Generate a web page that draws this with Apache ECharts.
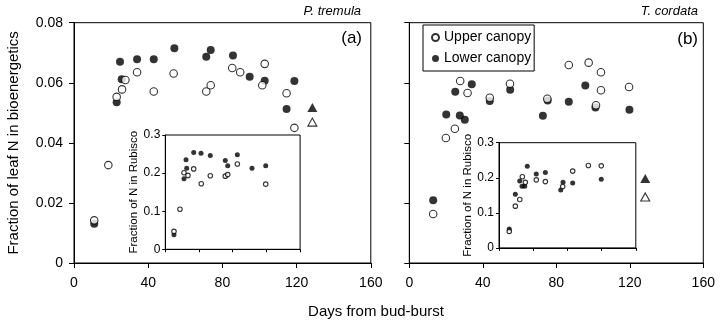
<!DOCTYPE html>
<html><head><meta charset="utf-8">
<script src="https://cdn.jsdelivr.net/npm/echarts@6/dist/echarts.min.js"></script>
<style>html,body{margin:0;padding:0;background:#fff}#c{width:720px;height:329px}</style>
</head><body><div id="c"></div>
<script>
// Panel (a) P. tremula, main: fraction of leaf N in bioenergetics
const daysAUpper = [10.9, 18.5, 23.0, 25.9, 27.7, 34.0, 43.0, 53.7, 71.3, 73.7, 85.3, 89.6, 101.5, 102.8, 114.6, 118.8];
const fracAUpper = [0.0142, 0.0326, 0.0553, 0.0578, 0.0609, 0.0635, 0.0571, 0.0631, 0.0571, 0.0592, 0.0649, 0.0635, 0.0592, 0.0663, 0.0565, 0.0450];
const daysALower = [10.9, 23.0, 24.8, 25.7, 34.0, 43.0, 54.1, 71.3, 73.7, 85.7, 94.7, 102.8, 114.6, 118.8];
const fracALower = [0.0131, 0.0535, 0.0670, 0.0612, 0.0678, 0.0678, 0.0715, 0.0687, 0.0709, 0.0691, 0.0620, 0.0607, 0.0513, 0.0606];
const triADays = [128.5];
const triALowerVal = [0.0518];
const triAUpperVal = [0.0469];
// Panel (a) inset: fraction of N in Rubisco
const daysAInUpper = [10.3, 17.4, 22.2, 26.9, 33.7, 42.7, 53.4, 71.2, 74.1, 85.5, 119.2];
const rubAInUpper = [0.047, 0.105, 0.201, 0.194, 0.211, 0.172, 0.193, 0.192, 0.196, 0.224, 0.171];
const daysAInLower = [10.3, 22.2, 24.6, 25.4, 33.7, 42.4, 53.4, 71.2, 74.1, 85.5, 102.9, 119.2];
const rubAInLower = [0.038, 0.185, 0.235, 0.213, 0.254, 0.252, 0.246, 0.233, 0.219, 0.248, 0.213, 0.219];
// Panel (b) T. cordata, main
const daysBUpper = [13.0, 19.9, 24.8, 27.7, 31.7, 43.8, 54.8, 75.1, 86.8, 97.6, 101.6, 104.3, 104.3, 119.6];
const fracBUpper = [0.0163, 0.0416, 0.0447, 0.0606, 0.0566, 0.0550, 0.0597, 0.0547, 0.0659, 0.0667, 0.0525, 0.0635, 0.0575, 0.0586];
const daysBLower = [13.0, 20.1, 25.0, 27.5, 30.2, 34.0, 43.8, 54.9, 72.7, 75.3, 86.8, 95.8, 101.3, 119.8];
const fracBLower = [0.0209, 0.0494, 0.0570, 0.0491, 0.0477, 0.0595, 0.0539, 0.0577, 0.0490, 0.0541, 0.0537, 0.0591, 0.0518, 0.0510];
const triBDays = [128.4];
const triBLowerVal = [0.0281];
const triBUpperVal = [0.0220];
// Panel (b) inset
const daysBInUpper = [12.0, 19.1, 24.3, 27.3, 30.8, 43.6, 54.2, 74.5, 86.2, 104.5, 119.6];
const rubBInUpper = [0.047, 0.119, 0.138, 0.203, 0.187, 0.194, 0.189, 0.175, 0.219, 0.235, 0.234];
const daysBInLower = [12.0, 19.1, 24.2, 26.9, 30.1, 33.1, 43.6, 54.2, 72.2, 74.9, 86.2, 119.6];
const rubBInLower = [0.054, 0.153, 0.191, 0.176, 0.176, 0.233, 0.211, 0.215, 0.165, 0.187, 0.185, 0.196];

const xTicks = [0, 40, 80, 120, 160];
const mainYTicks = [0, 0.02, 0.04, 0.06, 0.08];
const insetYTicks = [0, 0.1, 0.2, 0.3];

const FONT = 'Liberation Sans';
const zip = (a, b) => a.map((v, i) => [v, b[i]]);

function xAx(gi, showLabel, tickLen) {
  return {
    type: 'value', gridIndex: gi, min: xTicks[0], max: xTicks[xTicks.length - 1], interval: 40,
    axisLine: { show: true, lineStyle: { color: '#000', width: 1 } },
    axisTick: { show: true, inside: false, length: tickLen, lineStyle: { color: '#000' } },
    axisLabel: { show: showLabel, color: '#000', fontSize: 14, fontFamily: FONT, margin: 13 },
    splitLine: { show: false }
  };
}
function yAx(gi, ticks, showLabel, tickLen, fs, margin, name, nameGap, nameSize) {
  return {
    type: 'value', gridIndex: gi, min: ticks[0], max: ticks[ticks.length - 1], interval: ticks[1] - ticks[0],
    axisLine: { show: true, lineStyle: { color: '#000', width: 1 } },
    axisTick: { show: true, inside: false, length: tickLen, lineStyle: { color: '#000' } },
    axisLabel: { show: showLabel, color: '#000', fontSize: fs, fontFamily: FONT, margin: margin },
    splitLine: { show: false },
    name: name, nameLocation: 'middle', nameGap: nameGap, nameRotate: 90,
    nameTextStyle: { color: '#000', fontSize: nameSize, fontFamily: FONT }
  };
}
function sc(name, xi, data, filled, size, symbol) {
  return {
    type: 'scatter', name: name, xAxisIndex: xi, yAxisIndex: xi, data: data,
    symbol: symbol || 'circle', symbolSize: size,
    itemStyle: filled ? { color: '#000', borderColor: '#000', borderWidth: 0 }
                      : { color: '#fff', borderColor: '#000', borderWidth: 1.1 },
    emphasis: { disabled: true }, silent: true, z: filled ? 2 : 3
  };
}

const chart = echarts.init(document.getElementById('c'), null, { renderer: 'canvas' });
const gridBase = { show: true, borderColor: '#000', borderWidth: 1, backgroundColor: '#fff', outerBoundsMode: 'none', containLabel: false };
chart.setOption({
  animation: false,
  backgroundColor: '#fff',
  grid: [
    Object.assign({ left: 74, top: 22.7, width: 296.8, height: 240.3 }, gridBase),
    Object.assign({ left: 409.3, top: 22.7, width: 294, height: 240.3 }, gridBase),
    Object.assign({ left: 165.3, top: 135, width: 134.8, height: 114.3 }, gridBase),
    Object.assign({ left: 499, top: 142.7, width: 136.8, height: 105.2 }, gridBase)
  ],
  xAxis: [xAx(0, true, 5), xAx(1, true, 5), xAx(2, false, 3), xAx(3, false, 3)],
  yAxis: [
    yAx(0, mainYTicks, true, 5, 14, 11, 'Fraction of leaf N in bioenergetics', 53, 15),
    yAx(1, mainYTicks, false, 5, 14, 10, '', 0, 12),
    yAx(2, insetYTicks, true, 3, 12, 5, 'Fraction of N in Rubisco', 25, 11.5),
    yAx(3, insetYTicks, true, 3, 12, 5, 'Fraction of N in Rubisco', 23, 11.5)
  ],
  legend: {
    show: true, orient: 'vertical', left: 423, top: 25,
    data: [{ name: 'Upper canopy', icon: 'circle' }, { name: 'Lower canopy', icon: 'circle' }],
    borderColor: '#000', borderWidth: 1, padding: [3, 3, 3, 8], itemGap: 2,
    itemWidth: 7, itemHeight: 7, selectedMode: false,
    textStyle: { color: '#000', fontSize: 14, fontFamily: FONT, lineHeight: 19 }
  },
  graphic: [
    { type: 'text', x: 361, y: 11, style: { text: 'P. tremula', font: 'italic 13px "Liberation Sans"', fill: '#000', align: 'right', verticalAlign: 'middle' } },
    { type: 'text', x: 698, y: 11, style: { text: 'T. cordata', font: 'italic 13px "Liberation Sans"', fill: '#000', align: 'right', verticalAlign: 'middle' } },
    { type: 'text', x: 362, y: 38, style: { text: '(a)', font: '17px "Liberation Sans"', fill: '#000', align: 'right', verticalAlign: 'middle' } },
    { type: 'text', x: 698, y: 39, style: { text: '(b)', font: '17px "Liberation Sans"', fill: '#000', align: 'right', verticalAlign: 'middle' } },
    { type: 'text', x: 376, y: 312, style: { text: 'Days from bud-burst', font: '15px "Liberation Sans"', fill: '#000', align: 'center', verticalAlign: 'middle' } }
  ],
  series: [
    sc('A lower', 0, zip(daysALower, fracALower), true, 8),
    sc('A upper', 0, zip(daysAUpper, fracAUpper), false, 7.5),
    sc('A tri lower', 0, zip(triADays, triALowerVal), true, [10, 9], 'triangle'),
    sc('A tri upper', 0, zip(triADays, triAUpperVal), false, [9, 8], 'triangle'),
    sc('Lower canopy', 1, zip(daysBLower, fracBLower), true, 8),
    sc('Upper canopy', 1, zip(daysBUpper, fracBUpper), false, 7.5),
    sc('B tri lower', 1, zip(triBDays, triBLowerVal), true, [10, 9], 'triangle'),
    sc('B tri upper', 1, zip(triBDays, triBUpperVal), false, [9, 8], 'triangle'),
    sc('A in lower', 2, zip(daysAInLower, rubAInLower), true, 5),
    sc('A in upper', 2, zip(daysAInUpper, rubAInUpper), false, 4.5),
    sc('B in lower', 3, zip(daysBInLower, rubBInLower), true, 5),
    sc('B in upper', 3, zip(daysBInUpper, rubBInUpper), false, 4.5)
  ]
});
</script></body></html>
